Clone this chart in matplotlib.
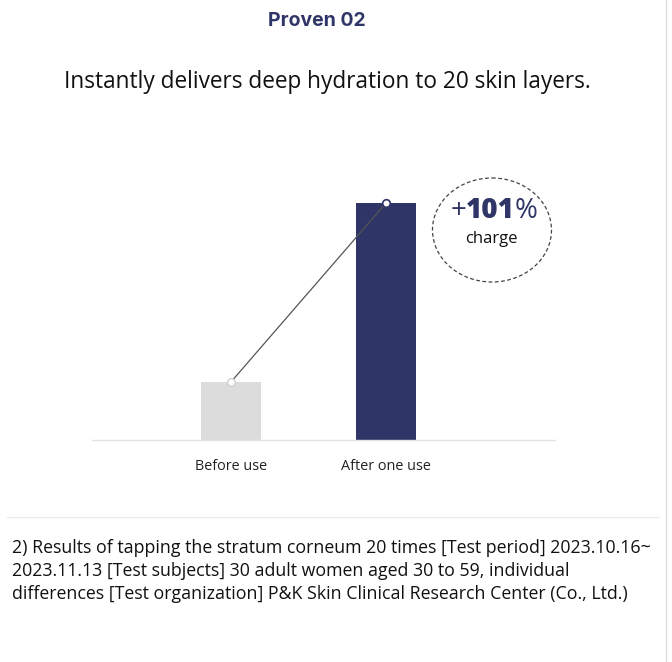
import matplotlib
matplotlib.use("Agg")
from matplotlib import pyplot as plt
from matplotlib.patches import Ellipse
import numpy as np

# data (bar heights, relative units)
categories = ["Before use", "After one use"]
values = [24.5, 100.0]
bar_colors = ["#dcdcdc", "#2f3566"]
change_label = "101"
title = "Proven 02"
subtitle = "Instantly delivers deep hydration to 20 skin layers."
footnote_lines = ["2) Results of tapping the stratum corneum 20 times [Test period] 2023.10.16~",
                  "2023.11.13 [Test subjects] 30 adult women aged 30 to 59, individual",
                  "differences [Test organization] P&K Skin Clinical Research Center (Co., Ltd.)"]

W, H = 672, 662
navy = "#2f3566"

fig = plt.figure(figsize=(W / 100, H / 100), dpi=100)

# overlay in pixel coords for decorations
ov = fig.add_axes([0, 0, 1, 1])
ov.set_xlim(0, W)
ov.set_ylim(H, 0)
ov.axis("off")

# chart axes
left, right, bottom, top = 92, 555, 440, 180
ax = fig.add_axes([left / W, 1 - bottom / H, (right - left) / W, (bottom - top) / H])
x = np.arange(len(categories))
px_per_unit = 155.0
ax.bar(x, values, width=60 / px_per_unit, color=bar_colors, zorder=2)
ax.set_xlim(-(231 - left) / px_per_unit, 1 + (right - 386) / px_per_unit)
ax.set_ylim(0, 100 * (bottom - top) / 237)
ax.plot(x, values, color="#555555", lw=0.9, zorder=3)
ax.scatter(x[:1], values[:1], s=30, facecolor="white", edgecolor="#cfcfcf", lw=1.0, zorder=4)
ax.scatter(x[1:], values[1:], s=30, facecolor="white", edgecolor=navy, lw=1.2, zorder=4)
for s in ["top", "right", "left"]:
    ax.spines[s].set_visible(False)
ax.spines["bottom"].set_color("#e2e2e2")
ax.spines["bottom"].set_linewidth(1.0)
ax.set_yticks([])
ax.set_xticks(x)
ax.set_xticklabels(categories, family="Open Sans", fontsize=10.4, color="#222222")
ax.tick_params(axis="x", length=0, pad=14)
ax.patch.set_alpha(0)

# titles
ov.text(317, 21, title, ha="center", va="center", family="Inter", fontweight="bold",
        fontsize=14, color=navy)
ov.text(327, 82, subtitle, ha="center", va="center", family="Open Sans",
        fontsize=16.3, color="#111111")

# dashed circle badge
ov.add_patch(Ellipse((492, 230), 119, 104, fill=False, ls=(0, (3, 2)), lw=0.9,
                     edgecolor="#444444"))
ov.text(466, 211, "+", ha="right", va="center", family="Open Sans", fontsize=20,
        color=navy)
ov.text(466, 211, change_label, ha="left", va="center", family="Open Sans",
        fontweight="heavy", fontsize=20, color=navy)
ov.text(515, 211, "%", ha="left", va="center", family="Open Sans", fontsize=20,
        color=navy)
ov.text(491, 239, "charge", ha="center", va="center", family="Open Sans",
        fontsize=12, color="#111111")

# separator and right border
ov.plot([7, 658], [517, 517], color="#ececec", lw=1)
ov.plot([666, 666], [0, H], color="#e0e0e0", lw=1)

# footnote
for i, line in enumerate(footnote_lines):
    ov.text(12, 548 + 23 * i, line, ha="left", va="center", family="Open Sans",
            fontsize=12.8, color="#111111")

fig.savefig("out.png", dpi=100)
